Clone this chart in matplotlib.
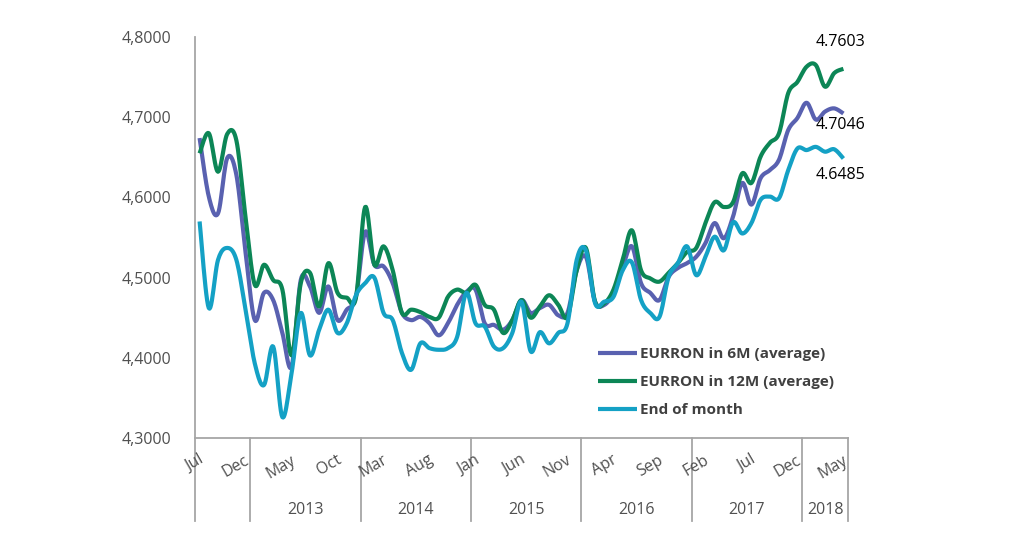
import numpy as np
import matplotlib
matplotlib.use("Agg")
import matplotlib.pyplot as plt
from matplotlib.lines import Line2D
import matplotlib.transforms as mtransforms

# ---------------- data ----------------
series_names = ["EURRON in 6M (average)", "EURRON in 12M (average)", "End of month"]

eurron_6m = [4.674, 4.601, 4.580, 4.649, 4.628, 4.531, 4.447, 4.481, 4.472, 4.431, 4.389, 4.497, 4.489, 4.456, 4.489, 4.447, 4.460, 4.476,
             4.557, 4.516, 4.514, 4.493, 4.456, 4.447, 4.451, 4.443, 4.428, 4.443, 4.466, 4.482, 4.485, 4.443, 4.441, 4.435, 4.447, 4.472,
             4.456, 4.462, 4.466, 4.453, 4.456, 4.509, 4.526, 4.470, 4.466, 4.481, 4.513, 4.539, 4.493, 4.481, 4.472, 4.501, 4.512, 4.518,
             4.526, 4.543, 4.568, 4.549, 4.576, 4.618, 4.591, 4.624, 4.634, 4.647, 4.684, 4.699, 4.718, 4.697, 4.707, 4.711, 4.7046]

eurron_12m = [4.655, 4.680, 4.632, 4.679, 4.671, 4.575, 4.491, 4.516, 4.497, 4.485, 4.403, 4.493, 4.506, 4.464, 4.518, 4.481, 4.475, 4.475,
              4.588, 4.516, 4.539, 4.509, 4.456, 4.460, 4.457, 4.451, 4.450, 4.476, 4.485, 4.481, 4.491, 4.466, 4.460, 4.431, 4.447, 4.472,
              4.450, 4.464, 4.478, 4.466, 4.451, 4.509, 4.537, 4.470, 4.468, 4.485, 4.522, 4.559, 4.509, 4.499, 4.495, 4.506, 4.518, 4.532,
              4.537, 4.568, 4.594, 4.588, 4.594, 4.630, 4.618, 4.651, 4.668, 4.680, 4.730, 4.744, 4.763, 4.765, 4.738, 4.755, 4.7603]

end_of_month = [4.570, 4.462, 4.522, 4.537, 4.522, 4.460, 4.393, 4.366, 4.414, 4.326, 4.381, 4.456, 4.403, 4.435, 4.460, 4.431, 4.443, 4.478,
                4.493, 4.500, 4.456, 4.447, 4.406, 4.385, 4.418, 4.412, 4.410, 4.412, 4.426, 4.481, 4.443, 4.439, 4.414, 4.412, 4.431, 4.470,
                4.408, 4.432, 4.418, 4.431, 4.443, 4.522, 4.534, 4.468, 4.470, 4.476, 4.509, 4.519, 4.472, 4.456, 4.451, 4.501, 4.518, 4.539,
                4.503, 4.526, 4.551, 4.534, 4.569, 4.555, 4.568, 4.597, 4.601, 4.599, 4.634, 4.661, 4.659, 4.663, 4.657, 4.660, 4.6485]

month_labels = ["Jul", "Dec", "May", "Oct", "Mar", "Aug", "Jan", "Jun", "Nov", "Apr", "Sep", "Feb", "Jul", "Dec", "May"]
month_label_step = 5
year_labels = ["", "2013", "2014", "2015", "2016", "2017", "2018"]
year_sizes = [6, 12, 12, 12, 12, 12, 5]
end_labels = ["4.7603", "4.7046", "4.6485"]
y_ticks = [4.3, 4.4, 4.5, 4.6, 4.7, 4.8]

colors = ["#5961B0", "#0C8656", "#14A1C5"]
FONT = ["Open Sans", "DejaVu Sans"]
plt.rcParams["font.family"] = FONT


def smooth(y, n=12):
    """Catmull-Rom (Excel-like smoothed line) through the points."""
    y = np.asarray(y, float)
    x = np.arange(len(y), dtype=float)
    P = np.column_stack([x, y])
    P = np.vstack([P[0], P, P[-1]])
    out = []
    t = np.linspace(0, 1, n, endpoint=False)[:, None]
    for k in range(1, len(P) - 2):
        p0, p1, p2, p3 = P[k - 1], P[k], P[k + 1], P[k + 2]
        c1 = p1 + (p2 - p0) / 6.0
        c2 = p2 - (p3 - p1) / 6.0
        seg = ((1 - t) ** 3) * p1 + 3 * ((1 - t) ** 2) * t * c1 + 3 * (1 - t) * t ** 2 * c2 + t ** 3 * p2
        out.append(seg)
    out.append(P[-2][None, :])
    out = np.vstack(out)
    return out[:, 0], out[:, 1]


W, H = 1024, 539
fig = plt.figure(figsize=(W / 100, H / 100), dpi=100)
ax = fig.add_axes([195 / W, 1 - 438 / H, (848 - 195) / W, (438 - 37) / H])

n = len(eurron_6m)
for vals, c, name in zip([eurron_6m, eurron_12m, end_of_month], colors, series_names):
    xs, ys = smooth(vals)
    ax.plot(xs, ys, color=c, lw=3.0, solid_capstyle="butt", label=name)

ax.set_xlim(-0.5, n - 0.5)
ax.set_ylim(4.3, 4.8)
ax.set_yticks(y_ticks)
ax.set_yticklabels([f"{v:.4f}".replace(".", ",") for v in y_ticks], fontsize=11.5, color="#505050")
ax.tick_params(axis="y", length=0, pad=17)
ax.set_xticks([])
for s in ["top", "right"]:
    ax.spines[s].set_visible(False)
for s in ["left", "bottom"]:
    ax.spines[s].set_color("#A6A6A6")
    ax.spines[s].set_linewidth(1.3)

# month labels
trans_x = mtransforms.blended_transform_factory(ax.transData, fig.transFigure)
for k, lab in enumerate(month_labels):
    ax.text(k * month_label_step + 0.3, 1 - 459 / H, lab, transform=trans_x, rotation=30,
            rotation_mode="anchor", ha="right", va="center", fontsize=11.5, color="#505050")

# year groups
bounds = np.concatenate([[0], np.cumsum(year_sizes)]) - 0.5
for b in bounds:
    ax.add_line(Line2D([b, b], [1 - 438 / H, 1 - 521 / H], transform=trans_x, color="#A6A6A6",
                       lw=1.3, clip_on=False))
for k, lab in enumerate(year_labels):
    if lab:
        ax.text((bounds[k] + bounds[k + 1]) / 2, 1 - 510 / H, lab, transform=trans_x, ha="center",
                va="center", fontsize=11.5, color="#505050")

# end-value labels
end_pos = [(816, 42), (816, 125), (816, 175)]
for lab, (px, py) in zip(end_labels, end_pos):
    fig.text(px / W, 1 - py / H, lab, ha="left", va="center", fontsize=11.5, color="#000000")

leg = ax.legend(loc="upper left", bbox_to_anchor=(598 / W, 1 - 347 / H), bbox_transform=fig.transFigure,
                frameon=False, handlelength=2.55, handletextpad=0.2, labelspacing=0.93,
                borderpad=0, borderaxespad=0,
                prop={"family": FONT, "weight": "bold", "size": 11})
for t in leg.get_texts():
    t.set_color("#404040")

fig.savefig("out.png", dpi=100)
